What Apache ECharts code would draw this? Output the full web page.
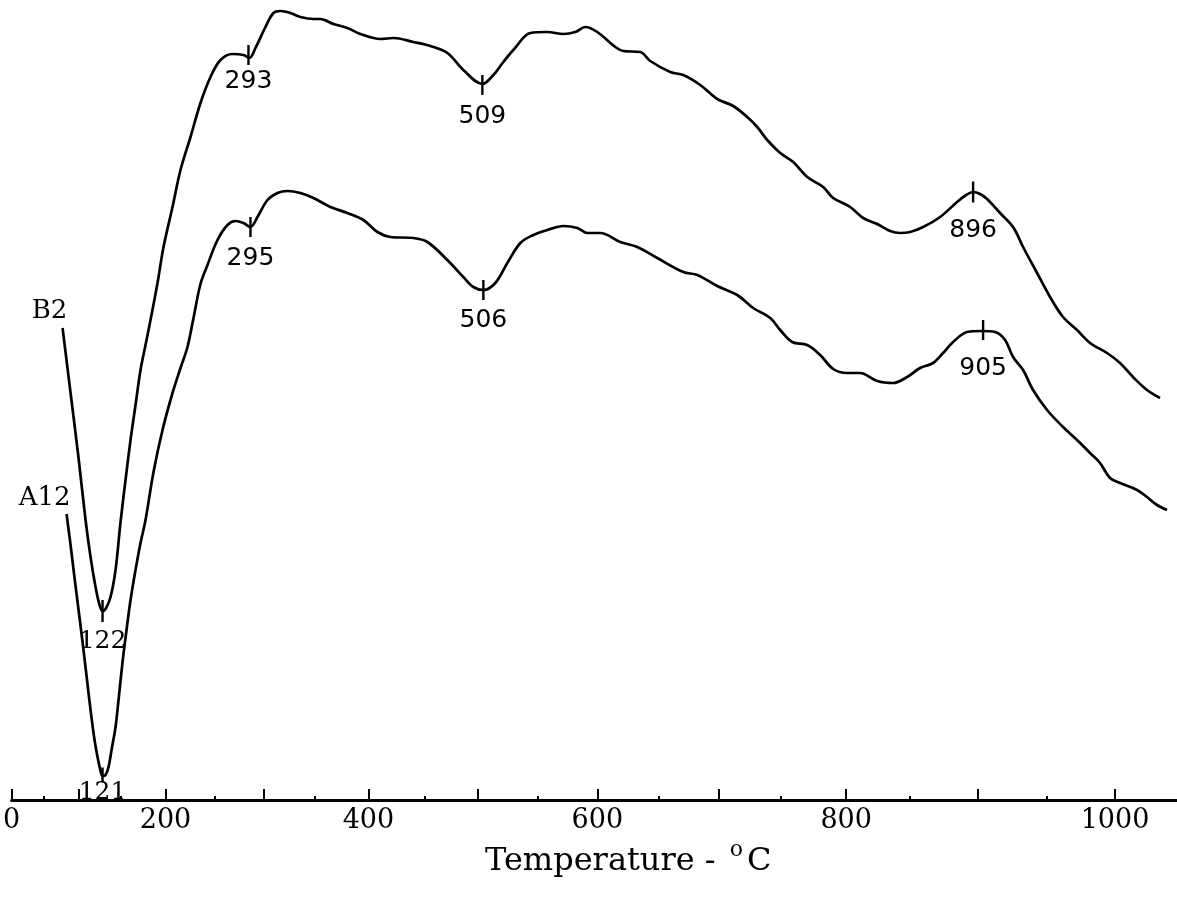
<!DOCTYPE html>
<html><head><meta charset="utf-8">
<script src="https://cdn.jsdelivr.net/npm/echarts@6/dist/echarts.min.js"></script>
<style>html,body{margin:0;padding:0;background:#fff}#c{width:1177px;height:901px}</style>
</head><body><div id="c"></div>
<script>
// Temperature calibration marks along the recorder chart (chart position units)
const tempMarks   = [0, 50, 100, 150, 200, 250, 300, 350, 400, 450, 500, 550, 600, 650, 700, 750, 800, 850, 900, 950, 1000];
const tempMarkPos = [0, 32, 67, 109, 154, 203, 252, 303, 357, 413, 466, 526, 586, 647, 708, 770, 835, 899, 967, 1036, 1104];

// Curve B2: [chart position, deflection]
const b2Curve = [
  [51,472],[59,407],[67,342],[74,280],[79,243],[84,213],[88,195],[91,189],[94,191],[99,203],
  [104,230],[109,278],[114,320],[119,360],[124,395],[129,430],[134,455],[139,480],[146,517],[152,553],
  [161,593],[169,630],[179,663],[189,697],[199,723],[209,740],[221,746],[232,745],[238,742],[244,752],
  [254,773],[262,787],[269,789],[279,787],[289,783],[302,781],[309,781],[322,776],[336,772],[349,766],
  [369,761],[382,762],[402,758],[419,754],[436,747],[452,730],[471,716],[482,725],[492,738],[502,750],
  [519,767],[536,768],[552,766],[564,768],[574,773],[586,768],[604,753],[612,749],[629,748],[639,739],
  [659,728],[672,725],[689,715],[706,701],[722,694],[736,683],[746,673],[756,660],[769,647],[782,638],
  [796,623],[812,613],[822,602],[839,593],[852,582],[866,576],[879,569],[889,567],[899,568],[912,573],
  [929,583],[946,598],[955,605],[962,608],[969,606],[976,601],[989,587],[1002,573],[1012,553],[1026,527],
  [1039,503],[1052,483],[1066,470],[1079,457],[1096,447],[1109,437],[1122,423],[1136,410],[1149,402]
];

// Curve A12: [chart position, deflection]
const a12Curve = [
  [55,286],[59,255],[63,222],[67,190],[71,158],[75,124],[79,90],[83,60],[86,43],[89,29],
  [91,24],[94,25],[97,33],[100,50],[104,73],[107,100],[111,138],[115,170],[119,200],[124,230],
  [129,257],[134,280],[142,328],[151,370],[161,407],[169,432],[176,453],[182,482],[189,516],[196,535],
  [206,560],[216,575],[224,579],[232,577],[239,573],[246,583],[256,600],[266,607],[276,609],[289,607],
  [302,602],[319,593],[336,587],[352,580],[366,568],[379,563],[402,562],[416,558],[436,540],[452,523],
  [462,513],[472,510],[484,517],[496,537],[509,557],[522,565],[536,570],[552,574],[566,572],[576,567],
  [589,567],[609,558],[626,553],[646,542],[672,528],[686,525],[706,514],[726,505],[742,492],[759,482],
  [769,470],[781,458],[796,455],[809,445],[822,431],[836,427],[849,427],[866,419],[882,417],[896,423],
  [909,432],[922,437],[932,447],[942,458],[956,468],[971,469],[984,468],[994,460],[1002,443],[1012,430],
  [1022,410],[1036,390],[1052,373],[1066,360],[1079,347],[1089,337],[1099,322],[1109,317],[1126,310],
  [1136,303],[1146,295],[1156,290]
];

// Marked peak temperatures
const b2PeakLabels  = ['122', '293', '509', '896'];
const b2PeakPos     = [91, 237, 471, 962];
const b2PeakVal     = [189, 745, 715, 608];
const a12PeakLabels = ['121', '295', '506', '905'];
const a12PeakPos    = [91, 239, 472, 972];
const a12PeakVal    = [25, 573, 510, 470];

const curveNames = ['B2', 'A12'];

// ---- styling (kept separate from the data) ----
const serif = 'DejaVu Serif';
const sans = 'DejaVu Sans';
const b2Style  = {gap: [7, 4, 9, 15],  len: [22, 20, 20, 21], font: [serif, sans, sans, sans]};
const a12Style = {gap: [-3, 9, 8, 16], len: [15, 20, 20, 20], font: [serif, sans, sans, sans]};

const hundredPos = tempMarkPos.filter((p, i) => tempMarks[i] % 100 === 0);
const fiftyPos   = tempMarkPos.filter((p, i) => tempMarks[i] % 100 !== 0);
const labelPos   = tempMarkPos.filter((p, i) => tempMarks[i] % 200 === 0);
const posToTemp = {};
tempMarkPos.forEach((p, i) => { posToTemp[p] = tempMarks[i]; });

function peakSeries(name, pos, val, labels, st) {
  return {
    type: 'scatter', name: name, silent: true, symbol: 'rect', z: 5,
    itemStyle: {color: '#000', opacity: 1},
    data: pos.map((p, i) => ({
      value: [p, val[i]],
      symbolSize: [2.4, st.len[i]],
      label: {distance: st.gap[i], fontFamily: st.font[i]}
    })),
    label: {
      show: true, position: 'bottom', color: '#000', fontSize: 25, opacity: 1,
      formatter: (d) => labels[d.dataIndex]
    }
  };
}

const chart = echarts.init(document.getElementById('c'), null, {renderer: 'canvas'});
chart.setOption({
  animation: false,
  backgroundColor: '#fff',
  grid: {left: 11, right: 0, top: 0, bottom: 101},
  xAxis: [{
    type: 'value', min: 0, max: 1166, position: 'bottom',
    axisLine: {show: true, lineStyle: {color: '#000', width: 3}},
    axisTick: {show: true, inside: true, length: 11, customValues: hundredPos,
               lineStyle: {color: '#000', width: 2}},
    axisLabel: {show: true, customValues: labelPos, margin: 7, color: '#000',
                fontFamily: serif, fontSize: 27,
                formatter: (v) => String(posToTemp[v])},
    splitLine: {show: false},
    name: '{t|Temperature - }{s|o}{t|C}',
    nameLocation: 'middle', nameGap: 36,
    nameTextStyle: {
      padding: [0, 0, 0, 68],
      rich: {
        t: {fontFamily: serif, fontSize: 32, color: '#000', lineHeight: 36},
        s: {fontFamily: serif, fontSize: 22, color: '#000', lineHeight: 22, padding: [0, 4, 24, 4]}
      }
    }
  }, {
    type: 'value', min: 0, max: 1166, position: 'bottom',
    axisLine: {show: false},
    axisTick: {show: true, inside: true, length: 4, customValues: fiftyPos,
               lineStyle: {color: '#000', width: 2}},
    axisLabel: {show: false},
    splitLine: {show: false}
  }],
  yAxis: {type: 'value', min: 0, max: 800, show: false},
  series: [
    {type: 'line', name: 'B2', data: b2Curve, showSymbol: false, smooth: 0.35, silent: true,
     lineStyle: {color: '#000', width: 2.7}},
    {type: 'line', name: 'A12', data: a12Curve, showSymbol: false, smooth: 0.35, silent: true,
     lineStyle: {color: '#000', width: 2.7}},
    peakSeries('B2 peaks', b2PeakPos, b2PeakVal, b2PeakLabels, b2Style),
    peakSeries('A12 peaks', a12PeakPos, a12PeakVal, a12PeakLabels, a12Style),
    {type: 'scatter', name: 'curve names', silent: true, symbolSize: 0,
     itemStyle: {opacity: 1},
     data: [
       {value: b2Curve[0], label: {offset: [-13, 0], distance: 4}},
       {value: a12Curve[0], label: {offset: [-22, 0], distance: 3}}
     ],
     label: {show: true, position: 'top', color: '#000', fontFamily: serif, fontSize: 26, opacity: 1,
             formatter: (d) => curveNames[d.dataIndex]}}
  ]
});
</script>
</body></html>
